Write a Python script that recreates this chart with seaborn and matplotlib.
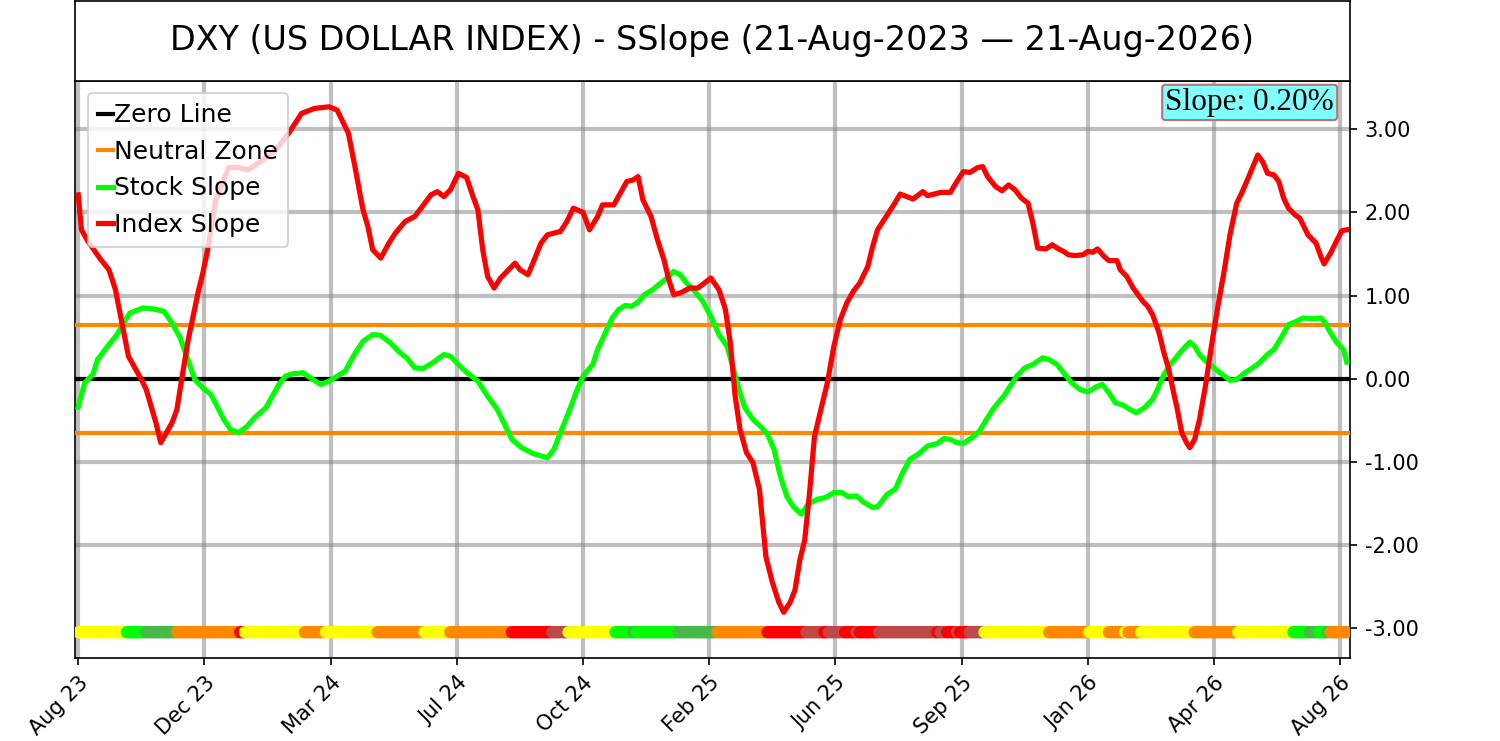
import numpy as np
import pandas as pd
import seaborn as sns
import matplotlib
matplotlib.use("Agg")
import matplotlib.pyplot as plt
from matplotlib.ticker import FormatStrFormatter

# Trading-day index (0 = 21-Aug-2023) and slope readings
index_days = [0, 2, 6, 14, 19, 23, 27, 31, 39, 42, 48, 51, 58, 61, 64, 68, 74, 77, 80, 85,
              93, 99, 105, 114, 122, 130, 138, 146, 155, 160, 163, 167, 171, 176, 179, 182, 187, 192, 196, 202,
              208, 218, 222, 226, 230, 235, 240, 244, 247, 250, 253, 257, 261, 265, 270, 273, 278, 281, 286, 290,
              298, 302, 306, 312, 316, 321, 324, 331, 335, 339, 343, 346, 349, 354, 358, 362, 365, 368, 372, 378,
              383, 391, 396, 400, 403, 406, 409, 413, 417, 421, 425, 429, 433, 436, 440, 443, 446, 449, 452, 455,
              459, 463, 467, 471, 475, 479, 483, 488, 491, 494, 500, 504, 508, 516, 522, 525, 533, 539, 543, 547,
              551, 556, 559, 562, 567, 571, 575, 579, 583, 587, 590, 593, 598, 602, 605, 609, 612, 616, 621, 624,
              627, 630, 634, 637, 642, 644, 648, 652, 655, 658, 661, 664, 668, 671, 674, 677, 679, 682, 685, 687,
              690, 693, 697, 700, 704, 708, 712, 716, 719, 723, 726, 729, 732, 735, 739, 742, 745, 748, 752, 755,
              758, 760, 765, 768, 770, 774, 778, 781, 784]
index_slope = [2.21, 1.79, 1.65, 1.43, 1.31, 1.07, 0.67, 0.27, -0.01, -0.13, -0.53, -0.77, -0.53, -0.37, 0.0, 0.47, 1.03, 1.27, 1.55, 2.15,
               2.54, 2.54, 2.51, 2.63, 2.75, 2.95, 3.19, 3.25, 3.27, 3.23, 3.11, 2.95, 2.55, 2.03, 1.83, 1.55, 1.45, 1.63, 1.75, 1.89,
               1.95, 2.21, 2.25, 2.19, 2.27, 2.47, 2.42, 2.19, 2.03, 1.55, 1.23, 1.09, 1.21, 1.29, 1.39, 1.31, 1.25, 1.39, 1.63, 1.73,
               1.77, 1.89, 2.05, 2.00, 1.79, 1.95, 2.09, 2.09, 2.23, 2.37, 2.39, 2.43, 2.15, 1.95, 1.67, 1.43, 1.19, 1.01, 1.03, 1.09,
               1.09, 1.21, 1.07, 0.83, 0.43, -0.21, -0.61, -0.89, -1.01, -1.33, -2.14, -2.45, -2.69, -2.81, -2.69, -2.54, -2.18, -1.94, -1.37, -0.70,
               -0.37, -0.05, 0.39, 0.71, 0.91, 1.05, 1.15, 1.35, 1.59, 1.79, 1.97, 2.09, 2.22, 2.16, 2.25, 2.20, 2.24, 2.24, 2.37, 2.49,
               2.48, 2.54, 2.55, 2.43, 2.31, 2.26, 2.33, 2.27, 2.17, 2.11, 1.87, 1.57, 1.56, 1.61, 1.57, 1.53, 1.49, 1.48, 1.49, 1.53,
               1.52, 1.56, 1.47, 1.42, 1.42, 1.31, 1.23, 1.09, 1.01, 0.93, 0.87, 0.77, 0.55, 0.31, 0.11, -0.17, -0.34, -0.65, -0.77, -0.83,
               -0.73, -0.49, -0.05, 0.35, 0.83, 1.27, 1.75, 2.11, 2.23, 2.41, 2.55, 2.69, 2.61, 2.47, 2.45, 2.37, 2.17, 2.05, 1.97, 1.93,
               1.81, 1.73, 1.63, 1.47, 1.38, 1.51, 1.67, 1.78, 1.79]

stock_days = [0, 4, 9, 12, 19, 24, 28, 32, 40, 46, 53, 58, 63, 67, 72, 77, 82, 86, 90, 94,
              99, 104, 109, 116, 120, 124, 128, 133, 139, 145, 150, 155, 160, 165, 170, 176, 182, 187, 193, 199,
              203, 208, 213, 219, 226, 230, 236, 241, 247, 253, 259, 263, 268, 274, 281, 286, 290, 294, 298, 303,
              308, 312, 318, 321, 326, 330, 334, 338, 342, 346, 350, 355, 360, 364, 368, 372, 376, 381, 386, 391,
              396, 401, 405, 409, 412, 417, 422, 426, 430, 434, 438, 442, 447, 451, 457, 462, 467, 472, 476, 481,
              485, 491, 494, 500, 505, 509, 514, 519, 525, 531, 535, 539, 543, 547, 553, 557, 562, 566, 572, 576,
              580, 585, 590, 596, 600, 605, 609, 614, 619, 624, 629, 633, 637, 641, 646, 650, 654, 659, 664, 667,
              671, 675, 680, 684, 687, 690, 693, 697, 702, 707, 712, 716, 721, 725, 730, 735, 739, 744, 748, 753,
              757, 763, 768, 770, 774, 778, 782, 784]
stock_slope = [-0.34, -0.05, 0.05, 0.23, 0.41, 0.53, 0.67, 0.79, 0.85, 0.84, 0.81, 0.67, 0.49, 0.27, -0.01, -0.11, -0.19, -0.34, -0.49, -0.61,
               -0.65, -0.58, -0.47, -0.35, -0.21, -0.07, 0.03, 0.06, 0.07, -0.01, -0.07, -0.03, 0.03, 0.09, 0.27, 0.45, 0.53, 0.52, 0.43, 0.31,
               0.25, 0.13, 0.12, 0.19, 0.29, 0.27, 0.15, 0.06, -0.03, -0.21, -0.37, -0.53, -0.73, -0.83, -0.90, -0.93, -0.95, -0.85, -0.65, -0.41,
               -0.15, 0.03, 0.17, 0.35, 0.56, 0.73, 0.83, 0.88, 0.87, 0.92, 1.01, 1.07, 1.15, 1.21, 1.29, 1.25, 1.15, 1.05, 0.93, 0.75,
               0.53, 0.39, 0.11, -0.17, -0.35, -0.49, -0.58, -0.67, -0.85, -1.18, -1.42, -1.54, -1.63, -1.51, -1.45, -1.43, -1.37, -1.37, -1.42, -1.41,
               -1.48, -1.55, -1.54, -1.39, -1.33, -1.15, -0.97, -0.91, -0.81, -0.78, -0.72, -0.73, -0.77, -0.78, -0.70, -0.63, -0.47, -0.35, -0.21, -0.09,
               0.03, 0.13, 0.17, 0.25, 0.23, 0.17, 0.07, -0.05, -0.13, -0.16, -0.10, -0.07, -0.17, -0.29, -0.32, -0.37, -0.41, -0.35, -0.25, -0.13,
               0.05, 0.17, 0.29, 0.38, 0.44, 0.39, 0.29, 0.21, 0.13, 0.05, -0.02, -0.01, 0.07, 0.12, 0.19, 0.29, 0.35, 0.51, 0.65, 0.69,
               0.73, 0.72, 0.73, 0.69, 0.55, 0.43, 0.35, 0.20]

# Signal band along the bottom: colour runs (number of trading days each)
band_colors = ['yellow', 'lime', 'green', 'orange', 'red', 'yellow', 'orange', 'yellow', 'orange', 'yellow',
               'orange', 'red', 'brown', 'yellow', 'lime', 'green', 'lime', 'green', 'orange', 'red',
               'brown', 'red', 'brown', 'red', 'brown', 'red', 'brown', 'red', 'brown', 'red',
               'brown', 'red', 'brown', 'yellow', 'orange', 'yellow', 'orange', 'yellow', 'orange', 'yellow',
               'orange', 'yellow', 'lime', 'green', 'lime', 'green', 'orange']
band_runs = [30, 12, 19, 39, 3, 37, 13, 32, 29, 16,
             38, 25, 10, 29, 11, 2, 26, 24, 31, 24,
             11, 3, 10, 7, 2, 12, 36, 2, 4, 6,
             2, 6, 9, 40, 25, 12, 10, 2, 8, 33,
             27, 34, 10, 6, 5, 2, 11]

tick_days = [0, 78, 156, 234, 312, 390, 468, 546, 624, 702, 780]
tick_labels = ['Aug 23', 'Dec 23', 'Mar 24', 'Jul 24', 'Oct 24', 'Feb 25',
               'Jun 25', 'Sep 25', 'Jan 26', 'Apr 26', 'Aug 26']

neutral = 0.65
slope_now = 0.20
band_level = -3.05

palette = {'yellow': '#ffff00', 'lime': '#00ff00', 'green': '#46b946',
           'orange': '#ff8800', 'red': '#ff0000', 'brown': '#bf4848'}

index_df = pd.DataFrame({'day': index_days, 'slope': index_slope})
stock_df = pd.DataFrame({'day': stock_days, 'slope': stock_slope})
band_df = pd.DataFrame({'day': np.arange(sum(band_runs)),
                        'level': band_level,
                        'signal': np.repeat(band_colors, band_runs)})

fig = plt.figure(figsize=(10, 4.94), dpi=150)
ax = fig.add_axes([0.05, 0.112, 0.85, 0.7787])
tax = fig.add_axes([0.05, 0.8907, 0.85, 0.1083])

# title box
tax.set_xticks([])
tax.set_yticks([])
tax.text(0.5, 0.5, 'DXY (US DOLLAR INDEX) - SSlope (21-Aug-2023 \u2014 21-Aug-2026)',
         ha='center', va='center', fontsize=16, transform=tax.transAxes)

ax.axhline(0, color='black', lw=2, label='Zero Line', zorder=3)
ax.axhline(neutral, color='#ff8800', lw=2, label='Neutral Zone', zorder=3)
ax.axhline(-neutral, color='#ff8800', lw=2, zorder=3)
sns.lineplot(data=stock_df, x='day', y='slope', color='#00ff00', lw=2.5,
             label='Stock Slope', ax=ax, zorder=4)
sns.lineplot(data=index_df, x='day', y='slope', color='#ff0000', lw=2.5,
             label='Index Slope', ax=ax, zorder=5)
sns.scatterplot(data=band_df, x='day', y='level', hue='signal', palette=palette,
                s=34, linewidth=0, legend=False, ax=ax, zorder=3)

ax.set_xlim(-2, 786)
ax.set_ylim(-3.36, 3.58)
ax.set_xticks(tick_days)
ax.set_xticklabels(tick_labels, rotation=45, ha='right', rotation_mode='anchor', fontsize=10)
ax.set_yticks(np.arange(-3, 4))
ax.yaxis.set_major_formatter(FormatStrFormatter('%.2f'))
ax.yaxis.tick_right()
ax.tick_params(axis='y', labelsize=10)
ax.grid(True, color='gray', alpha=0.5, lw=2)
ax.set_axisbelow(True)
ax.set_xlabel('')
ax.set_ylabel('')

ax.legend(loc='upper left', fontsize=12, handlelength=0.6, handletextpad=0.05,
          labelspacing=0.5, borderpad=0.4)

ax.text(0.9875, 0.988, 'Slope: %.2f%%' % slope_now, transform=ax.transAxes,
        ha='right', va='top', fontsize=15, family='Liberation Serif', zorder=6,
        bbox=dict(boxstyle='round,pad=0.1', facecolor='#80ffff', edgecolor='#c07070'))

fig.savefig('out.png', dpi=150)
